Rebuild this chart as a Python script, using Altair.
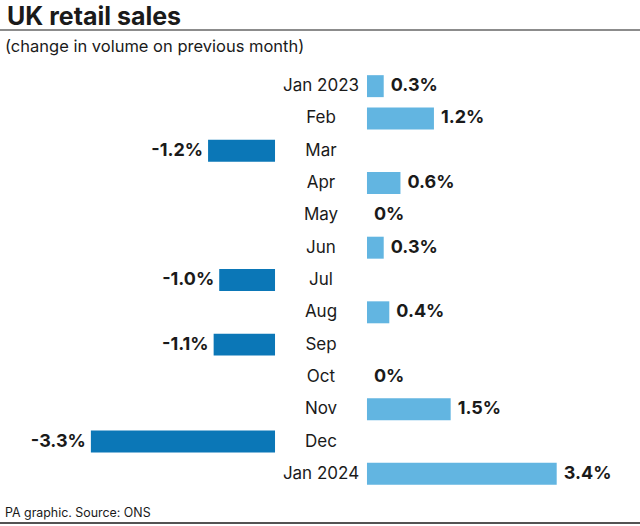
import altair as alt
import pandas as pd

months = ["Jan 2023", "Feb", "Mar", "Apr", "May", "Jun", "Jul", "Aug",
          "Sep", "Oct", "Nov", "Dec", "Jan 2024"]
values = [0.3, 1.2, -1.2, 0.6, 0.0, 0.3, -1.0, 0.4, -1.1, 0.0, 1.5, -3.3, 3.4]
labels = ["0.3%", "1.2%", "-1.2%", "0.6%", "0%", "0.3%", "-1.0%", "0.4%",
          "-1.1%", "0%", "1.5%", "-3.3%", "3.4%"]

title_text = "UK retail sales"
subtitle_text = "(change in volume on previous month)"
footer_text = "PA graphic. Source: ONS"

df = pd.DataFrame({"month": months, "value": values, "label": labels})

FONT = "Inter"
GAP = 0.824  # half-width of the central label column, in data units

base = alt.Chart(df).transform_calculate(
    start=f"datum.value >= 0 ? {GAP} : -{GAP}",
).transform_calculate(
    end="datum.start + datum.value",
    color_key="datum.value >= 0 ? 'pos' : 'neg'",
)

xscale = alt.Scale(domain=[-5, 5], range=[42, 600])
yscale = alt.Scale(domain=months, range=[70, 490], paddingInner=0.32, paddingOuter=0.16)

bars = base.mark_bar().encode(
    x=alt.X("start:Q", scale=xscale, axis=None),
    x2="end:Q",
    y=alt.Y("month:N", scale=yscale, axis=None, sort=months),
    color=alt.Color("color_key:N", scale=alt.Scale(domain=["pos", "neg"], range=["#62b5e1", "#0b77b7"]), legend=None),
)

pos_labels = base.transform_filter("datum.value >= 0").mark_text(
    align="left", baseline="middle", dx=7, font=FONT, fontSize=18, fontWeight="bold", color="#1a1a1a"
).encode(
    x=alt.X("end:Q", scale=xscale, axis=None),
    y=alt.Y("month:N", scale=yscale, axis=None, sort=months),
    text="label:N",
)

neg_labels = base.transform_filter("datum.value < 0").mark_text(
    align="right", baseline="middle", dx=-5, font=FONT, fontSize=18, fontWeight="bold", color="#1a1a1a"
).encode(
    x=alt.X("end:Q", scale=xscale, axis=None),
    y=alt.Y("month:N", scale=yscale, axis=None, sort=months),
    text="label:N",
)

month_labels = base.transform_calculate(mid="0").mark_text(
    align="center", baseline="middle", font=FONT, fontSize=17, color="#1a1a1a"
).encode(
    x=alt.X("mid:Q", scale=xscale, axis=None),
    y=alt.Y("month:N", scale=yscale, axis=None, sort=months),
    text="month:N",
)

one = pd.DataFrame({"a": [0]})

title = alt.Chart(one).mark_text(
    align="left", baseline="alphabetic", font=FONT, fontSize=25, fontWeight="bold", color="#1a1a1a"
).encode(x=alt.value(7), y=alt.value(25), text=alt.value(title_text))

subtitle = alt.Chart(one).mark_text(
    align="left", baseline="alphabetic", font=FONT, fontSize=16.5, color="#1a1a1a"
).encode(x=alt.value(5), y=alt.value(52), text=alt.value(subtitle_text))

footer = alt.Chart(one).mark_text(
    align="left", baseline="alphabetic", font=FONT, fontSize=12.4, color="#1a1a1a"
).encode(x=alt.value(5), y=alt.value(517), text=alt.value(footer_text))

top_rule = alt.Chart(one).mark_rule(color="#1a1a1a", strokeWidth=1.2).encode(
    x=alt.value(-20), x2=alt.value(700), y=alt.value(30)
)
bottom_rule = alt.Chart(one).mark_rule(color="#1a1a1a", strokeWidth=1.6).encode(
    x=alt.value(-20), x2=alt.value(700), y=alt.value(523)
)

chart = alt.layer(
    bars, pos_labels, neg_labels, month_labels, title, subtitle, footer, top_rule, bottom_rule
).properties(
    width=640, height=526, padding=0, autosize=alt.AutoSizeParams(type="none"), background="white"
).configure_view(stroke=None)

chart.save("out.html", embed_options={"renderer": "svg", "actions": False})
